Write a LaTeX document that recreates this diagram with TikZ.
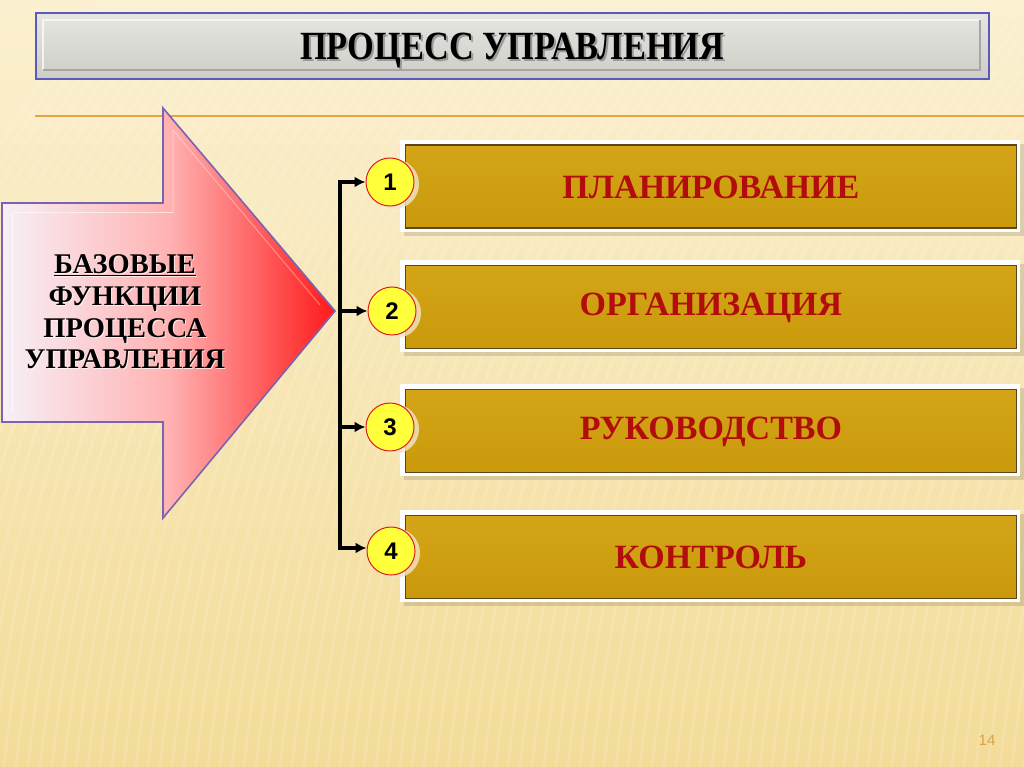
\documentclass[tikz,border=0pt]{standalone}
\usepackage{fontspec}
\setmainfont{Liberation Serif}
\newfontfamily\numfont{Liberation Sans}
\usetikzlibrary{arrows.meta,calc}
\definecolor{bgtop}{HTML}{FBF0D0}
\definecolor{bgbot}{HTML}{F3DC98}
\definecolor{titlefill}{HTML}{D6D6CE}
\definecolor{titleborder}{HTML}{5A5ABE}
\definecolor{orangeline}{HTML}{E8A440}
\definecolor{arrowborder}{HTML}{7A62B4}
\definecolor{gold}{HTML}{D2A00C}
\definecolor{golddark}{HTML}{5C4618}
\definecolor{txtred}{HTML}{B20C0C}
\definecolor{circyellow}{HTML}{FFFF3C}
\definecolor{circred}{HTML}{E01E1E}
\definecolor{pagenum}{HTML}{D9A24A}
\tikzset{
  goldbox/.style={draw=golddark, line width=1.8pt, fill=gold, minimum width=611pt, minimum height=83pt, anchor=north west},
  whiteframe/.style={fill=white, draw=none, minimum width=620pt, minimum height=92pt, anchor=north west},
  numcirc/.style={circle, draw=circred, line width=1pt, fill=circyellow, minimum size=48pt, inner sep=0pt,
    font=\numfont\bfseries\fontsize{24pt}{24pt}\selectfont},
  boxtext/.style={font=\bfseries\fontsize{34pt}{34pt}\selectfont, text=txtred},
  conn/.style={line width=3.5pt, -{Latex[length=11pt,width=11pt]}},
}
\begin{document}
\begin{tikzpicture}[x=1pt,y=-1pt]
\useasboundingbox (0,0) rectangle (1024,767);
% background
\shade[top color=bgtop, bottom color=bgbot] (0,0) rectangle (1024,767);
\begin{scope}
\clip (0,0) rectangle (1024,767);
\foreach \i in {-200,-188,...,1200}{
  \draw[white,opacity=0.13,line width=3pt] (\i,767) .. controls (\i+40,400) and (\i+150,200) .. (\i+300,0);
}
\end{scope}
% title
\node[draw=titleborder, line width=1.6pt, top color=titlefill!60!white, bottom color=titlefill!90!gray,
  minimum width=953pt, minimum height=66pt, anchor=north west, inner sep=0pt] (title) at (35,12) {};
\draw[white,opacity=0.7,line width=1.2pt] (43,70) -- (43,20) -- (980,20);
\draw[gray!70,line width=1.2pt] (43,70) -- (980,70) -- (980,20);
\node[text=gray!80, font=\bfseries\fontsize{40pt}{40pt}\selectfont] at ($(title.center)+(2,7)$) {\scalebox{0.86}[1]{ПРОЦЕСС УПРАВЛЕНИЯ}};
\node[text=black, font=\bfseries\fontsize{40pt}{40pt}\selectfont] (titletext) at ($(title.center)+(0,5)$) {\scalebox{0.86}[1]{ПРОЦЕСС УПРАВЛЕНИЯ}};
% orange line
\draw[orangeline, line width=2.5pt] (35,116) -- (1024,116);
% big arrow
\path[draw=arrowborder, line width=1.6pt, left color=white!94!violet, right color=red!90!white, middle color=red!30!white]
  (2,203) -- (163,203) -- (163,108) -- (335,311) -- (163,518) -- (163,422) -- (2,422) -- cycle;
\draw[white,opacity=0.6,line width=1pt] (12,412) -- (12,213) -- (173,213);
\draw[white,opacity=0.35,line width=1pt] (173,213) -- (173,130) -- (320,305);
\coordinate (tip) at (335,311);
\node[align=center, font=\bfseries\fontsize{28.5pt}{31.7pt}\selectfont, text=white, opacity=0.7] at (126,313)
  {\underline{БАЗОВЫЕ}\\ФУНКЦИИ\\ПРОЦЕССА\\УПРАВЛЕНИЯ};
\node[align=center, font=\bfseries\fontsize{28.5pt}{31.7pt}\selectfont, text=black] (basetext) at (125,312)
  {\underline{БАЗОВЫЕ}\\ФУНКЦИИ\\ПРОЦЕССА\\УПРАВЛЕНИЯ};
% boxes
\foreach \y/\n in {140/1,260/2,384/3,510/4}{
  \fill[black,opacity=0.12] (404,\y+4) rectangle (1024,\y+96);
  \node[whiteframe] (frame\n) at (400,\y) {};
  \node[goldbox, top color=gold!95!white, bottom color=gold!96!black] (box\n) at (404.5,\y+4.5) {};
}
\node[boxtext] at ($(box1.center)+(0,1)$) {ПЛАНИРОВАНИЕ};
\node[boxtext] at ($(box2.center)+(0,1)$) {ОРГАНИЗАЦИЯ};
\node[boxtext] at ($(box3.center)+(0,1)$) {РУКОВОДСТВО};
\node[boxtext] at ($(box4.center)+(0,1)$) {КОНТРОЛЬ};
% circles
\fill[bgtop!96!black,opacity=0.8] (394,184) circle (25);
\fill[bgtop!96!black,opacity=0.8] (396,313) circle (25);
\fill[bgtop!96!black,opacity=0.8] (394,429) circle (25);
\fill[bgtop!96!black,opacity=0.8] (395,553) circle (25);
\node[numcirc] (c1) at (390,182) {1};
\node[numcirc] (c2) at (392,311) {2};
\node[numcirc] (c3) at (390,427) {3};
\node[numcirc] (c4) at (391,551) {4};
% connectors
\coordinate (vtop) at (340,182);
\coordinate (vbot) at (340,548);
\draw[line width=4pt] ($(vtop)+(0,-1.5)$) -- ($(vbot)+(0,1.5)$);
\draw[conn] (vtop) -- (c1.west);
\draw[conn] (tip -| vtop) -- (c2.west);
\draw[conn] (c3.west -| vtop) -- (c3.west);
\draw[conn] (vbot) -- (c4.west |- vbot);
% page number
\node[text=pagenum, font=\numfont\fontsize{15pt}{15pt}\selectfont] (pg) at (987,740) {14};
\end{tikzpicture}
\end{document}
